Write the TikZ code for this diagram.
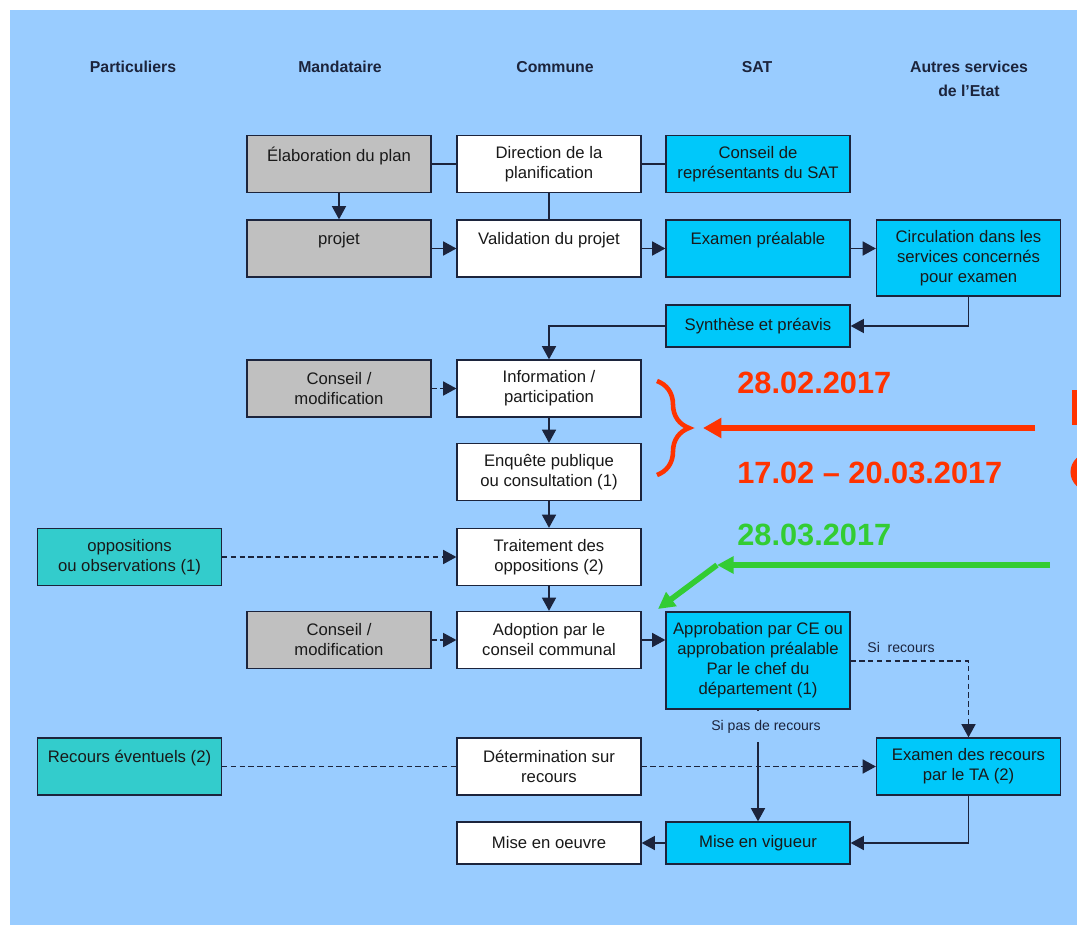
\documentclass[tikz,border=0pt]{standalone}
\usepackage{fontspec}
\setmainfont{Liberation Sans}
\usetikzlibrary{arrows.meta,decorations.pathreplacing}

\definecolor{bgblue}{RGB}{153,204,255}
\definecolor{boxgray}{RGB}{192,192,192}
\definecolor{satblue}{RGB}{0,200,250}
\definecolor{privteal}{RGB}{51,204,204}
\definecolor{frame}{RGB}{28,36,60}
\definecolor{datered}{RGB}{255,51,0}
\definecolor{dategreen}{RGB}{51,204,51}

\tikzset{
  box/.style={draw=frame,line width=0.75pt,minimum width=3.68cm,minimum height=1.14cm,
    inner sep=1pt,align=center,text=black!90,font=\fontsize{9.5pt}{11.4pt}\selectfont},
  commune/.style={box,fill=white},
  mandat/.style={box,fill=boxgray},
  sat/.style={box,fill=satblue},
  priv/.style={box,fill=privteal},
  head/.style={text=frame,align=center,font=\bfseries\fontsize{9pt}{13.6pt}\selectfont},
  link/.style={draw=frame,line width=0.75pt},
  dashlink/.style={link,dash pattern=on 3pt off 2pt},
  small/.style={text=frame,inner sep=1pt,font=\fontsize{8pt}{9.6pt}\selectfont},
  date/.style={anchor=west,inner sep=0pt,font=\bfseries\fontsize{17.5pt}{21pt}\selectfont},
}

\begin{document}
\begin{tikzpicture}[x=0.02cm,y=-0.02cm,>={Triangle[length=7.5pt,width=8pt]}]
  % page and background
  \clip (0,0) rectangle (1077,925);
  \fill[bgblue] (10,10) rectangle (1077,925);

  % column headers
  \node[head] (hpart) at (133,67) {Particuliers};
  \node[head] (hmand) at (340,67) {Mandataire};
  \node[head] (hcomm) at (555,67) {Commune};
  \node[head] (hsat)  at (757,67) {SAT};
  \node[head] (hetat) at (969,79) {Autres services\\de l'Etat};

  % boxes, top part
  \node[mandat] (elab)  at (339,164)   {Élaboration du plan\\\mbox{}};
  \node[mandat] (projet) at (339,248.5) {projet\\\mbox{}};
  \node[commune] (direction) at (549,164) {Direction de la\\planification};
  \node[commune] (validation) at (549,248.5) {Validation du projet\\\mbox{}};
  \node[sat] (conseilsat) at (758,164) {Conseil de\\représentants du SAT};
  \node[sat] (examen) at (758,248.5) {Examen préalable\\\mbox{}};
  \node[sat,minimum height=1.52cm] (circulation) at (968.5,258)
    {Circulation dans les\\services concernés\\pour examen};
  \node[sat,minimum height=0.84cm] (synthese) at (758,326) {Synthèse et préavis};

  % boxes, middle part
  \node[mandat] (conseil1) at (339,388.5) {Conseil /\\modification};
  \node[commune] (information) at (549,388.5) {Information /\\participation};
  \node[commune] (enquete) at (549,472) {Enquête publique\\ou consultation (1)};
  \node[priv] (oppositions) at (129.5,557) {oppositions\\ou observations (1)};
  \node[commune] (traitement) at (549,557) {Traitement des\\oppositions (2)};
  \node[mandat] (conseil2) at (339,640) {Conseil /\\modification};
  \node[commune] (adoption) at (549,640) {Adoption par le\\conseil communal};
  \node[sat,minimum height=1.94cm] (approbation) at (758,660.5)
    {Approbation par CE ou\\approbation préalable\\Par le chef du\\département (1)};

  % boxes, bottom part
  \node[priv] (recours) at (129.5,766.5) {Recours éventuels (2)\\\mbox{}};
  \node[commune] (determination) at (549,766.5) {Détermination sur\\recours};
  \node[sat] (examenrecours) at (968.5,766.5) {Examen des recours\\par le TA (2)};
  \node[commune,minimum height=0.84cm] (oeuvre) at (549,843) {Mise en oeuvre};
  \node[sat,minimum height=0.84cm] (vigueur) at (758,843) {Mise en vigueur};

  % plain links
  \draw[link] (elab) -- (direction);
  \draw[link] (direction) -- (conseilsat);
  \draw[link] (direction) -- (validation);

  % main flow
  \draw[link,->] (elab) -- (projet);
  \draw[link,->] (projet) -- (validation);
  \draw[link,->] (validation) -- (examen);
  \draw[link,->] (examen.east) -- (examen.east -| circulation.west);
  \draw[link,->] (circulation.south) |- (synthese.east);
  \draw[link,->] (synthese.west) -| (information.north);
  \draw[link,->] (information) -- (enquete);
  \draw[link,->] (enquete) -- (traitement);
  \draw[link,->] (traitement) -- (adoption);
  \draw[link,->] (adoption.east) -- (adoption.east -| approbation.west);
  \draw[link,->] (approbation) -- (vigueur);
  \draw[link,->] (examenrecours.south) |- (vigueur.east);
  \draw[link,->] (vigueur) -- (oeuvre);

  % dashed links
  \draw[dashlink,->] (conseil1) -- (information);
  \draw[dashlink,->] (conseil2) -- (adoption);
  \draw[dashlink,->] (oppositions) -- (traitement);
  \draw[dashlink] (recours) -- (determination);
  \draw[dashlink,->] (determination) -- (examenrecours);
  \draw[dashlink,->] (approbation.east |- 0,661) -| (examenrecours.north);

  % link labels
  \node[small] (sirecours) at (901,647) {Si\ \ recours};
  \node[small,fill=bgblue,minimum height=0.62cm] (sipas) at (766,726.5) {Si pas de recours};

  % dates in red
  \draw[datered,line width=2.6pt,decorate,decoration={brace,amplitude=0.64cm}]
    (657,381) -- (657,475);
  \coordinate (redstart) at (1035,428);
  \coordinate (redtip) at (703,428);
  \draw[datered,line width=3.2pt,-{Triangle[length=10.5pt,width=11pt]}] (redstart) -- (redtip);
  \node[date,text=datered] (date1) at (737,383) {28.02.2017};
  \node[date,text=datered] (date2) at (737,473) {17.02 – 20.03.2017};
  % pieces of red lettering cut by the right edge
  \fill[datered] (1072,390) rectangle (1077,425);
  \draw[datered,line width=4pt] (1091,472) ellipse [x radius=17, y radius=16];

  % date in green
  \node[date,text=dategreen] (date3) at (737,535) {28.03.2017};
  \coordinate (greenstart) at (1050,565);
  \coordinate (greentip) at (717,565);
  \coordinate (greenend) at (658,609);
  \draw[dategreen,line width=3.2pt,-{Triangle[length=9.5pt,width=9.5pt]}] (greenstart) -- (greentip);
  \draw[dategreen,line width=3.2pt,-{Triangle[length=9.5pt,width=9.5pt]}] (greentip) -- (greenend);
\end{tikzpicture}
\end{document}
